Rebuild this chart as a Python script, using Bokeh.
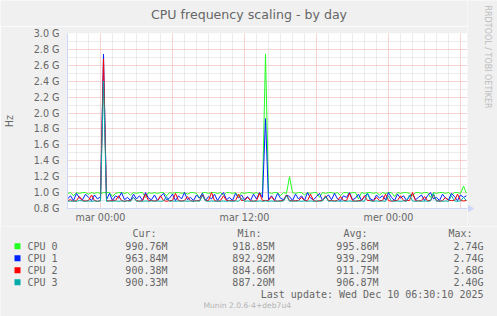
import math
import numpy as np
from bokeh.plotting import figure
from bokeh.layouts import column, row
from bokeh.models import FixedTicker, PrintfTickFormatter, Range1d
from bokeh.core.properties import value
from bokeh.embed import file_html
from bokeh.resources import INLINE

# ---- data (hours relative to Tue 00:00, 15-minute samples, values in MHz) ----
t_start = -2.75
t_step = 0.25

cpu0 = [990, 1000, 960, 1000, 990, 1000, 1000, 980, 1000, 990,
        1000, 990, 1000, 1000, 1000, 950, 990, 1000, 1000, 990,
        1000, 970, 1000, 990, 1000, 1000, 940, 1000, 990, 1000,
        990, 1000, 1000, 960, 1000, 990, 1000, 1000, 990, 1000,
        980, 1000, 1000, 990, 930, 1000, 1000, 990, 1000, 1000,
        990, 1000, 970, 1000, 1000, 990, 1000, 950, 1000, 990,
        1000, 1000, 990, 1000, 980, 1000, 2740, 1000, 990, 1000,
        1000, 960, 1000, 990, 1200, 1000, 990, 1000, 1000, 970,
        1000, 990, 1000, 1000, 940, 1000, 990, 1000, 1000, 990,
        1000, 960, 1000, 1000, 990, 1000, 1000, 920, 1000, 990,
        1000, 1000, 990, 1000, 970, 1000, 990, 1000, 1000, 950,
        1000, 990, 1000, 1000, 990, 960, 1000, 1000, 990, 1000,
        1000, 940, 1000, 990, 1000, 1000, 990, 1000, 970, 1000,
        1000, 990, 1080, 990]

cpu1 = [920, 960, 900, 990, 930, 910, 980, 940, 900, 970,
        920, 950, 2740, 910, 990, 900, 960, 930, 1000, 910,
        940, 900, 980, 920, 960, 900, 1000, 930, 910, 970,
        900, 950, 990, 910, 930, 980, 900, 960, 920, 1000,
        910, 940, 900, 970, 930, 990, 900, 950, 920, 980,
        900, 960, 1000, 910, 940, 900, 990, 930, 970, 910,
        950, 900, 980, 920, 1000, 940, 1930, 910, 960, 900,
        990, 930, 910, 970, 950, 900, 980, 920, 960, 900,
        1000, 930, 910, 950, 990, 900, 940, 970, 910, 990,
        920, 900, 960, 940, 1000, 910, 930, 980, 900, 950,
        990, 920, 900, 970, 930, 960, 910, 1000, 940, 900,
        980, 930, 960, 900, 950, 990, 910, 940, 970, 900,
        960, 1000, 920, 940, 900, 980, 930, 910, 990, 950,
        900, 970, 940, 960]

cpu2 = [900, 910, 890, 900, 950, 900, 895, 900, 970, 900,
        890, 900, 2680, 900, 895, 905, 900, 960, 900, 890,
        900, 900, 940, 900, 890, 900, 980, 900, 900, 895,
        900, 960, 900, 890, 900, 900, 990, 900, 895, 900,
        950, 900, 890, 900, 900, 970, 900, 900, 1000, 900,
        890, 900, 960, 900, 900, 895, 900, 980, 900, 900,
        940, 900, 890, 900, 990, 900, 900, 900, 950, 900,
        890, 900, 900, 970, 900, 895, 900, 900, 940, 900,
        900, 980, 900, 890, 900, 900, 960, 900, 900, 895,
        900, 950, 900, 900, 990, 900, 890, 900, 900, 960,
        900, 900, 895, 940, 900, 900, 980, 900, 890, 900,
        900, 960, 900, 900, 900, 1000, 900, 895, 900, 950,
        900, 900, 970, 900, 890, 900, 940, 900, 900, 900,
        980, 900, 895, 900]

cpu3 = [895, 890, 895, 890, 900, 895, 890, 895, 890, 895,
        890, 895, 2400, 890, 895, 890, 895, 890, 895, 890,
        895, 890, 940, 890, 895, 890, 895, 890, 895, 890,
        895, 890, 895, 950, 890, 895, 890, 895, 890, 895,
        890, 895, 890, 895, 890, 960, 895, 890, 895, 890,
        895, 890, 895, 890, 895, 890, 895, 890, 930, 890,
        895, 890, 895, 890, 895, 890, 895, 890, 895, 890,
        895, 890, 895, 960, 890, 895, 890, 895, 890, 895,
        890, 895, 890, 895, 890, 895, 950, 890, 895, 890,
        895, 890, 895, 890, 895, 890, 895, 890, 895, 890,
        990, 895, 890, 895, 890, 895, 890, 960, 895, 890,
        895, 890, 895, 890, 970, 895, 890, 895, 890, 895,
        890, 895, 990, 890, 895, 890, 895, 890, 960, 895,
        890, 895, 940, 900]

series_names = ["CPU 0", "CPU 1", "CPU 2", "CPU 3"]
series_colors = ["#22ff22", "#0022ff", "#ff0000", "#00aaaa"]
cur_vals = ["990.76M", "963.84M", "900.38M", "900.33M"]
min_vals = ["918.85M", "892.92M", "884.66M", "887.20M"]
avg_vals = ["995.86M", "939.29M", "911.75M", "906.87M"]
max_vals = ["2.74G", "2.74G", "2.68G", "2.40G"]
col_headers = ["Cur:", "Min:", "Avg:", "Max:"]

x_tick_pos = [0, 12, 24]
x_tick_labels = ["mar 00:00", "mar 12:00", "mer 00:00"]
y_ticks = [0.8, 1.0, 1.2, 1.4, 1.6, 1.8, 2.0, 2.2, 2.4, 2.6, 2.8, 3.0]

title_text = "CPU frequency scaling - by day"
last_update = "Last update: Wed Dec 10 06:30:10 2025"
munin_text = "Munin 2.0.6-4+deb7u4"
rrd_text = "RRDTOOL / TOBI OETIKER"

# ---- layout (canvas pixels) ----
W, H = 497, 316
FL, FR, FT, FB = 67, 467, 33, 208   # plot frame edges
TITLE_H = 26                         # title strip height
CHART_H = 226                        # bottom of the chart strip
X0, X1 = -2.75, -2.75 + 400 / 12.0
Y0, Y1 = 0.8, 3.0

BG = "#F0F0F0"
FONT = "#666666"
AXIS = "#CFD6F8"
MONO = "DejaVu Sans Mono"
SANS = "DejaVu Sans"

# ---- main chart ----
p = figure(width=FR, height=CHART_H - TITLE_H, output_backend="svg", toolbar_location=None,
           x_range=Range1d(X0, X1), y_range=Range1d(Y0, Y1),
           min_border_left=FL, min_border_right=0,
           min_border_top=FT - TITLE_H, min_border_bottom=CHART_H - FB,
           background_fill_color="#FFFFFF", border_fill_color=BG,
           outline_line_color=None, frame_align=False)

hours = list(range(-2, 31))
p.xgrid.ticker = FixedTicker(ticks=[h for h in hours if h % 6 == 0],
                             minor_ticks=[h for h in hours if h % 6 != 0])
p.ygrid.ticker = FixedTicker(ticks=y_ticks,
                             minor_ticks=[round(v + 0.1, 1) for v in y_ticks[:-1]])
for g in (p.xgrid, p.ygrid):
    g.grid_line_color = "#EEA8A8"
    g.grid_line_dash = "1 1"
    g.grid_line_width = 1
    g.minor_grid_line_color = "#D8D8D8"
    g.minor_grid_line_dash = "1 1"
    g.minor_grid_line_width = 1

p.yaxis.ticker = FixedTicker(ticks=y_ticks)
p.yaxis.formatter = PrintfTickFormatter(format="%.1f G")
p.yaxis.axis_label = "Hz"
p.xaxis.ticker = FixedTicker(ticks=x_tick_pos)
p.xaxis.major_label_overrides = dict(zip(x_tick_pos, x_tick_labels))
for ax in (p.xaxis, p.yaxis):
    ax.axis_line_color = AXIS
    ax.major_tick_line_color = None
    ax.minor_tick_line_color = None
    ax.major_tick_out = 0
    ax.major_tick_in = 0
    ax.minor_tick_out = 0
    ax.major_label_text_font = SANS
    ax.major_label_text_font_size = "9.6px"
    ax.major_label_text_color = FONT
    ax.axis_label_text_font = SANS
    ax.axis_label_text_font_size = "9.6px"
    ax.axis_label_text_font_style = "normal"
    ax.axis_label_text_color = FONT
p.yaxis.major_label_standoff = 8
p.yaxis.axis_label_standoff = 16
p.xaxis.major_label_standoff = 3

t = t_start + t_step * np.arange(len(cpu0))
for vals, col in zip([cpu0, cpu1, cpu2, cpu3], series_colors):
    p.line(t, np.array(vals) / 1000.0, line_color=col, line_width=1)


def strip(width, height, xr, yr):
    f = figure(width=width, height=height, output_backend="svg", toolbar_location=None,
               x_range=Range1d(*xr), y_range=Range1d(*yr),
               x_axis_location=None, y_axis_location=None,
               min_border_left=0, min_border_right=0, min_border_top=0, min_border_bottom=0,
               background_fill_color=BG, border_fill_color=BG, outline_line_color=None,
               frame_align=False)
    f.grid.visible = False
    return f


# ---- title strip (canvas pixel coordinates) ----
top = strip(FR, TITLE_H, (0, FR), (TITLE_H, 0))
top.text(x=[248.5], y=[14], text=[title_text], text_align="center", text_baseline="middle",
         text_font=value(SANS), text_font_size=value("12.6px"), text_color=FONT)

# ---- right strip ----
side = strip(W - FR, CHART_H, (FR, W), (CHART_H, 0))
side.segment(x0=[FR], y0=[FB], x1=[FR + 3], y1=[FB], line_color=AXIS, line_width=1)
side.patch(x=[FR + 1, FR + 6, FR + 1], y=[FB - 3, FB, FB + 3], fill_color=AXIS, line_color=AXIS)
side.text(x=[487], y=[5], text=[rrd_text], angle=-math.pi / 2,
          text_align="left", text_baseline="middle",
          text_font=value(SANS), text_font_size=value("8px"), text_color="#BDBDBD")

# ---- legend strip ----
leg = strip(W, H - CHART_H, (0, W), (H, CHART_H))
leg.text(x=[132, 237, 343, 448], y=[233] * 4, text=col_headers,
         text_align="left", text_baseline="middle",
         text_font=value(MONO), text_font_size=value("10px"), text_color=FONT)
row_y = [245.7 + 12 * i for i in range(4)]
leg.rect(x=[17] * 4, y=row_y, width=6, height=6, fill_color=series_colors, line_color=None)
leg.text(x=[27] * 4, y=row_y, text=series_names, text_align="left", text_baseline="middle",
         text_font=value(MONO), text_font_size=value("10px"), text_color=FONT)
for xr, vals in zip([167, 274, 378, 483], [cur_vals, min_vals, avg_vals, max_vals]):
    leg.text(x=[xr] * 4, y=row_y, text=vals, text_align="right", text_baseline="middle",
             text_font=value(MONO), text_font_size=value("10px"), text_color=FONT)
leg.text(x=[483], y=[294], text=[last_update], text_align="right", text_baseline="middle",
         text_font=value(MONO), text_font_size=value("10px"), text_color=FONT)
leg.text(x=[203], y=[305], text=[munin_text], text_align="left", text_baseline="middle",
         text_font=value(SANS), text_font_size=value("7.6px"), text_color="#B4B4B4")

layout = column(row(column(top, p, spacing=0), side, spacing=0), leg, spacing=0)
open("out.html", "w").write(file_html(layout, INLINE))
